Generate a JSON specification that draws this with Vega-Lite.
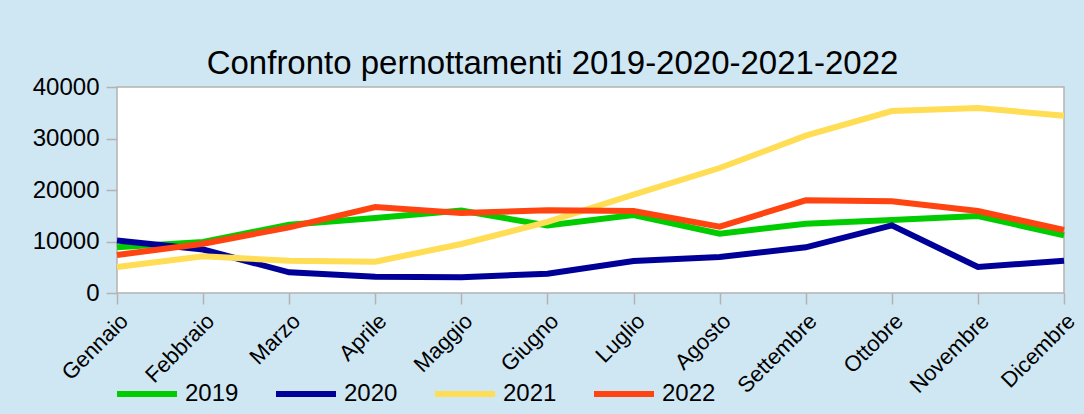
{
  "$schema": "https://vega.github.io/schema/vega-lite/v6.json",
  "autosize": {"type": "none"},
  "width": 947,
  "height": 206,
  "padding": {"left": 117, "top": 87, "right": 20, "bottom": 121},
  "background": "#cfe6f3",
  "title": {
    "text": "Confronto pernottamenti 2019-2020-2021-2022",
    "font": "Liberation Sans",
    "fontSize": 33,
    "fontWeight": "normal",
    "color": "#000000",
    "anchor": "middle",
    "frame": "group",
    "dx": -38,
    "offset": -6
  },
  "config": {
    "view": {"fill": "#ffffff", "stroke": "#b3b3b3", "strokeWidth": 1.5},
    "font": "Liberation Sans"
  },
  "data": {
    "values": [
      {"mese": "Gennaio", "anno": "2019", "valore": 8900},
      {"mese": "Febbraio", "anno": "2019", "valore": 9900},
      {"mese": "Marzo", "anno": "2019", "valore": 13270},
      {"mese": "Aprile", "anno": "2019", "valore": 14560},
      {"mese": "Maggio", "anno": "2019", "valore": 16000},
      {"mese": "Giugno", "anno": "2019", "valore": 13100},
      {"mese": "Luglio", "anno": "2019", "valore": 15150},
      {"mese": "Agosto", "anno": "2019", "valore": 11520},
      {"mese": "Settembre", "anno": "2019", "valore": 13460},
      {"mese": "Ottobre", "anno": "2019", "valore": 14170},
      {"mese": "Novembre", "anno": "2019", "valore": 14950},
      {"mese": "Dicembre", "anno": "2019", "valore": 11200},
      {"mese": "Gennaio", "anno": "2020", "valore": 10200},
      {"mese": "Febbraio", "anno": "2020", "valore": 8450},
      {"mese": "Marzo", "anno": "2020", "valore": 4010},
      {"mese": "Aprile", "anno": "2020", "valore": 3170},
      {"mese": "Maggio", "anno": "2020", "valore": 3040},
      {"mese": "Giugno", "anno": "2020", "valore": 3750},
      {"mese": "Luglio", "anno": "2020", "valore": 6210},
      {"mese": "Agosto", "anno": "2020", "valore": 6990},
      {"mese": "Settembre", "anno": "2020", "valore": 8870},
      {"mese": "Ottobre", "anno": "2020", "valore": 13140},
      {"mese": "Novembre", "anno": "2020", "valore": 5050},
      {"mese": "Dicembre", "anno": "2020", "valore": 6280},
      {"mese": "Gennaio", "anno": "2021", "valore": 5050},
      {"mese": "Febbraio", "anno": "2021", "valore": 7120},
      {"mese": "Marzo", "anno": "2021", "valore": 6280},
      {"mese": "Aprile", "anno": "2021", "valore": 6080},
      {"mese": "Maggio", "anno": "2021", "valore": 9510},
      {"mese": "Giugno", "anno": "2021", "valore": 13800},
      {"mese": "Luglio", "anno": "2021", "valore": 19090},
      {"mese": "Agosto", "anno": "2021", "valore": 24270},
      {"mese": "Settembre", "anno": "2021", "valore": 30550},
      {"mese": "Ottobre", "anno": "2021", "valore": 35340},
      {"mese": "Novembre", "anno": "2021", "valore": 35920},
      {"mese": "Dicembre", "anno": "2021", "valore": 34430},
      {"mese": "Gennaio", "anno": "2022", "valore": 7380},
      {"mese": "Febbraio", "anno": "2022", "valore": 9580},
      {"mese": "Marzo", "anno": "2022", "valore": 12750},
      {"mese": "Aprile", "anno": "2022", "valore": 16700},
      {"mese": "Maggio", "anno": "2022", "valore": 15530},
      {"mese": "Giugno", "anno": "2022", "valore": 16080},
      {"mese": "Luglio", "anno": "2022", "valore": 15900},
      {"mese": "Agosto", "anno": "2022", "valore": 12880},
      {"mese": "Settembre", "anno": "2022", "valore": 17990},
      {"mese": "Ottobre", "anno": "2022", "valore": 17800},
      {"mese": "Novembre", "anno": "2022", "valore": 15920},
      {"mese": "Dicembre", "anno": "2022", "valore": 12230}
    ]
  },
  "mark": {"type": "line", "strokeWidth": 6, "strokeJoin": "miter", "strokeCap": "butt"},
  "encoding": {
    "x": {
      "field": "mese",
      "type": "ordinal",
      "sort": ["Gennaio", "Febbraio", "Marzo", "Aprile", "Maggio", "Giugno", "Luglio", "Agosto", "Settembre", "Ottobre", "Novembre", "Dicembre"],
      "scale": {"type": "point", "padding": 0},
      "axis": {
        "title": null,
        "domain": false,
        "grid": false,
        "ticks": true,
        "tickSize": 11,
        "tickColor": "#b3b3b3",
        "tickWidth": 1.5,
        "labelAngle": -45,
        "labelFontSize": 22,
        "labelColor": "#000000",
        "labelFont": "Liberation Sans",
        "labelPadding": 6
      }
    },
    "y": {
      "field": "valore",
      "type": "quantitative",
      "scale": {"domain": [0, 40000], "nice": false},
      "axis": {
        "title": null,
        "domain": false,
        "grid": false,
        "values": [0, 10000, 20000, 30000, 40000],
        "format": "d",
        "tickSize": 11,
        "tickColor": "#b3b3b3",
        "tickWidth": 1.5,
        "labelFontSize": 24,
        "labelColor": "#000000",
        "labelFont": "Liberation Sans",
        "labelPadding": 7
      }
    },
    "color": {
      "field": "anno",
      "type": "nominal",
      "scale": {
        "domain": ["2019", "2020", "2021", "2022"],
        "range": ["#00cc00", "#000099", "#ffdd55", "#ff4411"]
      },
      "legend": {
        "title": null,
        "orient": "none",
        "direction": "horizontal",
        "legendX": -3,
        "legendY": 274,
        "padding": 0,
        "symbolType": "stroke",
        "symbolSize": 3600,
        "symbolStrokeWidth": 6,
        "labelFontSize": 24,
        "labelFont": "Liberation Sans",
        "labelColor": "#000000",
        "labelOffset": 5,
        "columnPadding": 25
      }
    }
  }
}
